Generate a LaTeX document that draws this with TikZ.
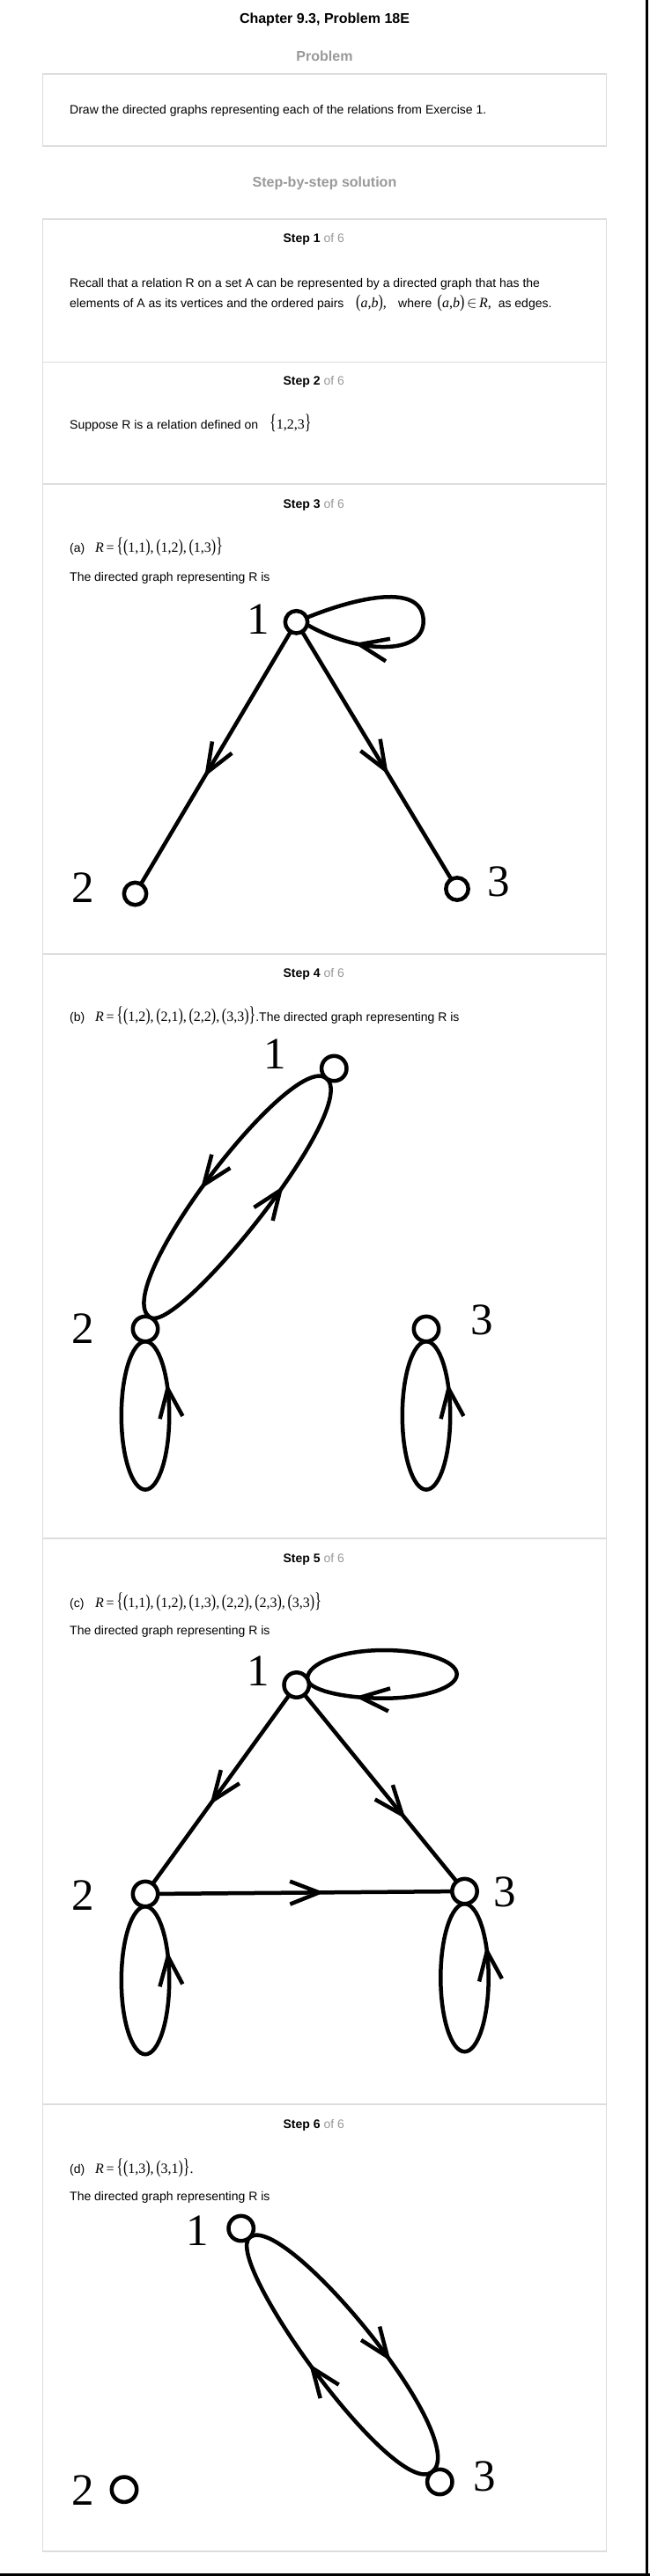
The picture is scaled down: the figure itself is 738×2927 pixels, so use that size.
\documentclass[tikz,border=0pt]{standalone}
\usepackage{graphicx}
\usepackage{fontspec}
\setmainfont{Liberation Sans}
\newfontfamily\tnr{Liberation Serif}
\usetikzlibrary{decorations.markings}
\pgfdeclarelayer{back}
\pgfdeclarelayer{bg}
\pgfsetlayers{back,bg,main}
\definecolor{boxgray}{HTML}{DDDDDD}
\definecolor{txtgray}{HTML}{999999}
\newcommand{\bp}[1]{\scalebox{1}[1.3]{#1}}
\newcommand{\bb}[1]{\scalebox{1}[1.5]{#1}}
\newcommand{\mfont}{\tnr\fontsize{16}{18}\selectfont}
\newcommand{\pr}[2]{\bp{(}#1,#2\bp{)}}
\begin{document}
\begin{tikzpicture}[x=1pt,y=-1pt,
  boxline/.style={draw=boxgray, line width=1.2pt},
  txt/.style={anchor=base west, inner sep=0pt, font=\fontsize{14}{16}\selectfont},
  head/.style={anchor=base, inner sep=0pt, font=\bfseries\fontsize{16}{18}\selectfont},
  stephead/.style={anchor=base west, inner sep=0pt, font=\fontsize{14}{16}\selectfont},
  vtx/.style={circle, draw, fill=white, line width=4.5pt, inner sep=0pt, outer sep=0pt, minimum size=28.4pt},
  vtxs/.style={vtx, minimum size=25.4pt},
  vlab/.style={anchor=base, inner sep=0pt, font=\tnr\fontsize{51}{51}\selectfont},
  edge/.style={line width=4.5pt},
  barb/.style={line width=4.5pt, line join=round},
  midarrow/.style={postaction={decorate}, decoration={markings, mark=at position #1 with {\draw[barb] (-33pt,13pt) -- (0pt,0pt) -- (-33pt,-13pt);}}}
]
\useasboundingbox (0,0) rectangle (738,2927);
\begin{pgfonlayer}{back}
\fill[white] (0,0) rectangle (738,2927);
\end{pgfonlayer}

% page frame lines
\draw[line width=3.5pt] (734.7,0) -- (734.7,2927);
\draw[line width=3pt] (0,2925.5) -- (738,2925.5);

% boxes
\draw[boxline] (48.5,84) rectangle (688.5,166);
\draw[boxline] (48.5,249) rectangle (688.5,2899);
\foreach \yy in {411.7,550,1084,1748,2391} \draw[boxline] (48.5,\yy) -- (688.5,\yy);

% header texts
\node[head] (title) at (368.5,26.5) {Chapter 9.3, Problem 18E};
\node[head, text=txtgray] (probhead) at (368.5,69.3) {Problem};
\node[txt] (probtext) at (79,130) {Draw the directed graphs representing each of the relations from Exercise 1.};
\node[head, text=txtgray] (sbs) at (368.5,213) {Step-by-step solution};

% step headers
\node[stephead] (h1) at (321.4,276) {\textbf{Step 1} \textcolor{txtgray}{of 6}};
\node[stephead] (h2) at (321.4,437.7) {\textbf{Step 2} \textcolor{txtgray}{of 6}};
\node[stephead] (h3) at (321.4,577) {\textbf{Step 3} \textcolor{txtgray}{of 6}};
\node[stephead] (h4) at (321.4,1110.5) {\textbf{Step 4} \textcolor{txtgray}{of 6}};
\node[stephead] (h5) at (321.4,1775) {\textbf{Step 5} \textcolor{txtgray}{of 6}};
\node[stephead] (h6) at (321.4,2418) {\textbf{Step 6} \textcolor{txtgray}{of 6}};

% step 1
\node[txt] (s1a) at (79,326.5) {Recall that a relation R on a set A can be represented by a directed graph that has the};
\node[txt] (s1b) at (79,349) {elements of A as its vertices and the ordered pairs};
\node[txt] (s1c) at (404,349) {\mfont\pr{\textit{a}}{\textit{b}},};
\node[txt] (s1d) at (452,349) {where};
\node[txt] (s1e) at (496.5,349) {{\mfont\pr{\textit{a}}{\textit{b}}\,$\in$\,\textit{R},}\ \ as edges.};

% step 2
\node[txt] (s2a) at (79,487.7) {Suppose R is a relation defined on};
\node[txt] (s2b) at (306,487.7) {\mfont\bb{\{}1,2,3\bb{\}}};

% step 3
\node[txt] (s3a) at (79,627) {(a)};
\node[txt] (s3b) at (108,627) {\mfont\textit{R}\,=\,\bb{\{}\pr{1}{1},\,\pr{1}{2},\,\pr{1}{3}\bb{\}}};
\node[txt] (s3c) at (79,660) {The directed graph representing R is};

% step 4
\node[txt] (s4a) at (79,1160) {(b)};
\node[txt] (s4b) at (108,1160) {{\mfont\textit{R}\,=\,\bb{\{}\pr{1}{2},\,\pr{2}{1},\,\pr{2}{2},\,\pr{3}{3}\bb{\}}}.The directed graph representing R is};

% step 5
\node[txt] (s5a) at (79,1826) {(c)};
\node[txt] (s5b) at (108,1826) {\mfont\textit{R}\,=\,\bb{\{}\pr{1}{1},\,\pr{1}{2},\,\pr{1}{3},\,\pr{2}{2},\,\pr{2}{3},\,\pr{3}{3}\bb{\}}};
\node[txt] (s5c) at (79,1857) {The directed graph representing R is};

% step 6
\node[txt] (s6a) at (79,2469) {(d)};
\node[txt] (s6b) at (108,2469) {\mfont\textit{R}\,=\,\bb{\{}\pr{1}{3},\,\pr{3}{1}\bb{\}}.};
\node[txt] (s6c) at (79,2500.6) {The directed graph representing R is};

% ---------- graph (a)
\node[vtxs] (a1) at (336.5,706.8) {};
\node[vtxs] (a2) at (153.5,1015.5) {};
\node[vtxs] (a3) at (519,1010) {};
\node[vlab] (la1) at (292.9,720.4) {1};
\node[vlab] (la2) at (94.5,1025) {2};
\node[vlab] (la3) at (565.8,1018.6) {3};
\begin{pgfonlayer}{bg}
\draw[edge, midarrow=0.557] (a1) -- (a2);
\draw[edge, midarrow=0.558] (a1) -- (a3);
\draw[edge, midarrow=0.79] (a1.23) .. controls (404,679) and (480.7,661) .. (480.7,706) .. controls (480.7,746) and (404.2,742.2) .. (a1.-14);
\end{pgfonlayer}

% ---------- graph (b)
\node[vtx] (b1) at (379.3,1214) {};
\node[vtx] (b2) at (165,1510) {};
\node[vtx] (b3) at (484,1510) {};
\node[vlab] (lb1) at (311.8,1214.4) {1};
\node[vlab] (lb2) at (94.5,1526.7) {2};
\node[vlab] (lb3) at (547,1516) {3};
\begin{pgfonlayer}{bg}
\draw[edge, midarrow=0.529] (b1.-130) .. controls (329.9,1195.2) and (124.8,1463.5) .. (b2.70);
\draw[edge, midarrow=0.595] (b2.70) .. controls (200.5,1519.2) and (412.1,1255.8) .. (b1.-130);
\draw[edge, midarrow=0.832] (b2.south) .. controls (150,1524.2) and (137.8,1561.9) .. (137.8,1608.4) .. controls (137.8,1654.9) and (150,1692.6) .. (165,1692.6) .. controls (180,1692.6) and (192.2,1654.9) .. (192.2,1608.4) .. controls (192.2,1561.9) and (180,1524.2) .. (b2.south);
\draw[edge, midarrow=0.832] (b3.south) .. controls (469,1524.2) and (456.8,1561.9) .. (456.8,1608.4) .. controls (456.8,1654.9) and (469,1692.6) .. (484,1692.6) .. controls (499,1692.6) and (511.2,1654.9) .. (511.2,1608.4) .. controls (511.2,1561.9) and (499,1524.2) .. (b3.south);
\end{pgfonlayer}

% ---------- graph (c)
\node[vtx] (c1) at (336.7,1914.5) {};
\node[vtx] (c2) at (165,2152) {};
\node[vtx] (c3) at (527.5,2149) {};
\node[vlab] (lc1) at (293.5,1915.5) {1};
\node[vlab] (lc2) at (94.5,2170) {2};
\node[vlab] (lc3) at (573.5,2166.5) {3};
\begin{pgfonlayer}{bg}
\draw[edge, midarrow=0.557] (c1) -- (c2);
\draw[edge, midarrow=0.642] (c1) -- (c3);
\draw[edge, midarrow=0.548] (c2) -- (c3);
\draw[edge, midarrow=0.823] (c1.30) .. controls (349,1889.7) and (388,1875) .. (436,1875) .. controls (481.7,1875) and (518.7,1887.3) .. (518.7,1902.4) .. controls (518.7,1917.5) and (481.7,1929.7) .. (436,1929.7) .. controls (388,1929.7) and (349,1919.7) .. (c1.30);
\draw[edge, midarrow=0.823] (c2.south) .. controls (150,2166.2) and (137.8,2203.8) .. (137.8,2250.2) .. controls (137.8,2296.6) and (150,2334.2) .. (165,2334.2) .. controls (180,2334.2) and (192.2,2296.6) .. (192.2,2250.2) .. controls (192.2,2203.8) and (180,2166.2) .. (c2.south);
\draw[edge, midarrow=0.831] (c3.south) .. controls (512.5,2163.2) and (500.3,2200.8) .. (500.3,2247.2) .. controls (500.3,2293.6) and (512.5,2331.2) .. (527.5,2331.2) .. controls (542.5,2331.2) and (554.7,2293.6) .. (554.7,2247.2) .. controls (554.7,2200.8) and (542.5,2163.2) .. (c3.south);
\end{pgfonlayer}

% ---------- graph (d)
\node[vtx] (d1) at (273.7,2532) {};
\node[vtx] (d2) at (141,2828.7) {};
\node[vtx] (d3) at (499.3,2820) {};
\node[vlab] (ld1) at (224.2,2551) {1};
\node[vlab] (ld2) at (94.5,2846.7) {2};
\node[vlab] (ld3) at (550,2830) {3};
\begin{pgfonlayer}{bg}
\draw[edge, midarrow=0.592] (d1.-45) .. controls (322.4,2512) and (537.2,2772.6) .. (d3.128);
\draw[edge, midarrow=0.525] (d3.128) .. controls (448.7,2841.3) and (251.3,2567.1) .. (d1.-45);
\end{pgfonlayer}
\end{tikzpicture}
\end{document}
